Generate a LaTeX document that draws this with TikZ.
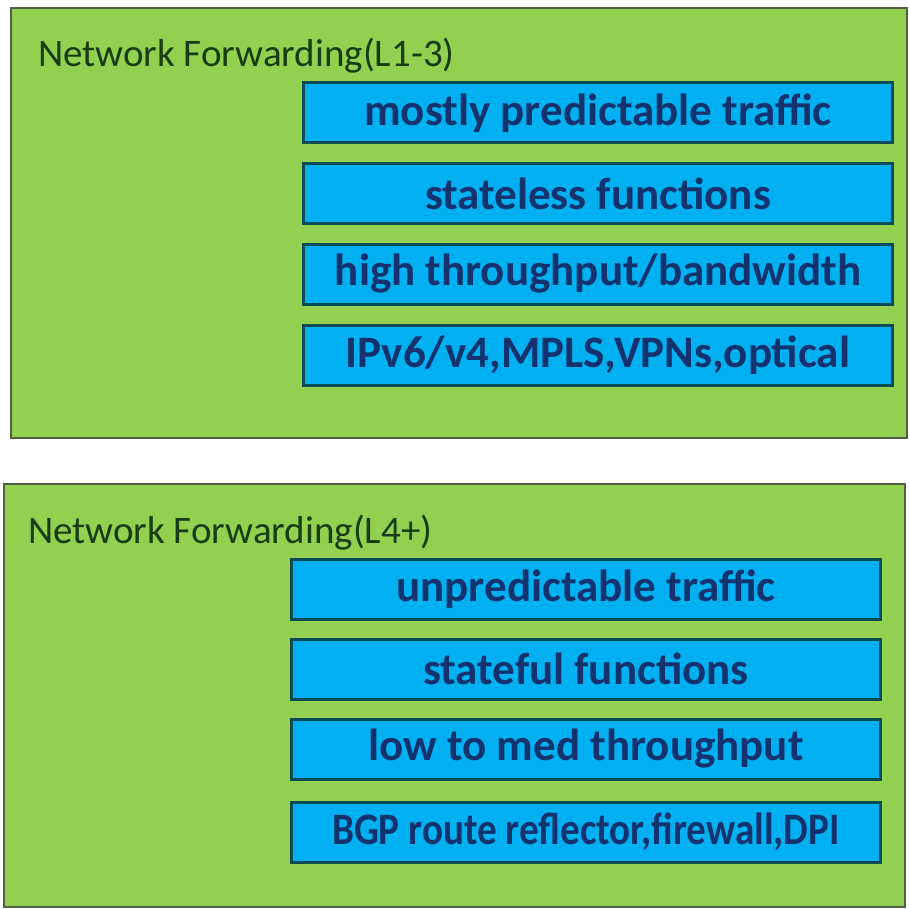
\documentclass[tikz,border=0pt]{standalone}
\usepackage{fontspec}
\setmainfont{Carlito}
\definecolor{panelgreen}{RGB}{146,208,80}
\definecolor{panelline}{RGB}{85,95,70}
\definecolor{boxblue}{RGB}{0,176,240}
\definecolor{boxline}{RGB}{10,75,85}
\definecolor{titletext}{RGB}{25,60,20}
\definecolor{boxtext}{RGB}{20,50,110}
\newcommand{\boxlabel}[1]{\raisebox{-3pt}{#1}}
\begin{document}
\begin{tikzpicture}[x=1pt,y=-1pt,
  panel/.style={draw=panelline,fill=panelgreen,line width=2.5pt,rectangle,inner sep=0pt},
  titlestyle/.style={anchor=west,inner sep=0pt,text=titletext,font=\fontsize{39}{44}\selectfont},
  itembox/.style={draw=boxline,fill=boxblue,line width=3pt,rectangle,inner sep=0pt,
    minimum width=589pt,minimum height=60pt,text=boxtext,font=\bfseries\fontsize{45}{50}\selectfont}]
\useasboundingbox (0,0) rectangle (909,909);
\fill[white] (0,0) rectangle (909,909);
% top panel
\node[panel,minimum width=896pt,minimum height=430pt] (p1) at (459,223) {};
\node[titlestyle] (t1) at (38,56) {Network Forwarding(L1-3)};
\node[itembox] (a1) at (598,113) {\boxlabel{mostly predictable traffic}};
\node[itembox] (a2) at (598,194) {\boxlabel{stateless functions}};
\node[itembox] (a3) at (598,274) {\boxlabel{high throughput/bandwidth}};
\node[itembox] (a4) at (598,355) {\boxlabel{IPv6/v4,MPLS,VPNs,optical}};
% bottom panel
\node[panel,minimum width=901pt,minimum height=423pt] (p2) at (454.5,695.5) {};
\node[titlestyle] (t2) at (28,533) {Network Forwarding(L4+)};
\node[itembox] (b1) at (586,589) {\boxlabel{unpredictable traffic}};
\node[itembox] (b2) at (586,669) {\boxlabel{stateful functions}};
\node[itembox] (b3) at (586,749) {\boxlabel{low to med throughput}};
\node[itembox] (b4) at (586,832) {\boxlabel{\scalebox{0.87}[1]{BGP route reflector,firewall,DPI}}};
\end{tikzpicture}
\end{document}
